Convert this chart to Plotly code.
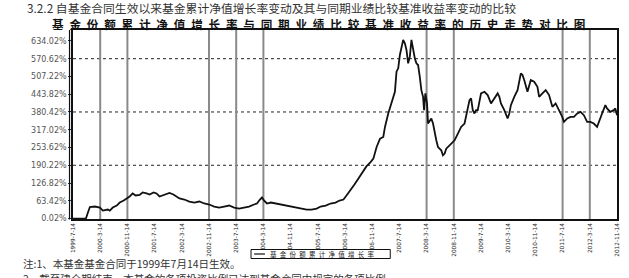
import plotly.graph_objects as go

# time axis: months since fund inception (1999-07-14)
months = [0.0, 2.05, 3.80, 4.39, 4.97, 6.44, 7.90, 8.78, 10.24, 10.82, 11.70, 12.87, 13.75, 14.92,
          15.80, 16.67, 17.55, 18.43, 19.60, 20.48, 21.65, 22.52, 23.69, 24.57, 25.45, 26.33,
          27.50, 28.37, 29.54, 30.42, 31.30, 32.76, 34.22, 35.69, 37.15, 38.61, 40.07, 41.54,
          43.00, 44.46, 45.92, 47.39, 48.85, 50.31, 51.77, 53.24, 54.11, 54.99, 55.58, 56.16,
          57.04, 58.21, 59.67, 61.13, 62.60, 64.35, 65.81, 67.28, 68.74, 70.20, 71.66, 72.83,
          74.30, 75.76, 77.22, 78.39, 79.56, 80.44, 81.61, 82.78, 83.95, 85.12, 86.29, 87.46,
          88.34, 89.30, 90.30, 91.26, 91.76, 92.72, 93.69, 94.19, 94.68, 95.15, 95.65, 96.14,
          96.61, 97.11, 97.61, 98.08, 98.57, 99.07, 99.54, 100.04, 100.53, 101.00, 101.50,
          101.99, 102.46, 102.96, 103.25, 103.63, 104.13, 104.42, 104.92, 105.39, 105.89,
          106.38, 106.85, 107.35, 108.31, 108.81, 109.31, 109.78, 110.27, 111.24, 112.23,
          113.20, 114.16, 115.16, 115.62, 116.12, 116.62, 117.09, 117.58, 118.08, 118.55,
          119.05, 120.01, 121.01, 121.97, 122.94, 123.93, 124.90, 125.40, 125.86, 126.86,
          127.82, 128.32, 128.79, 129.78, 130.75, 131.71, 132.21, 132.71, 133.67, 134.64,
          135.63, 136.60, 137.10, 138.06, 139.03, 140.02, 140.99, 141.95, 142.95, 143.91,
          144.41, 145.37, 146.34, 147.33, 148.30, 149.27, 150.26, 151.22, 152.19, 153.18,
          154.15, 154.65, 155.61, 156.58, 157.07, 158.04, 159.04, 159.51, 160.00]

# cumulative NAV growth rate (%)
growth = [0.0, 0.0, 0.0, 21.5, 41.2, 43.0, 39.4, 28.7, 32.3, 28.7, 39.4, 46.6, 57.3, 64.5,
          71.7, 78.8, 89.6, 82.4, 84.2, 93.2, 89.6, 86.0, 93.2, 89.6, 78.8, 82.4,
          89.6, 91.4, 86.0, 78.8, 71.7, 68.1, 60.9, 57.3, 60.9, 53.8, 50.2, 43.0,
          39.4, 43.0, 46.6, 39.4, 35.8, 39.4, 43.0, 50.2, 53.8, 68.1, 75.2, 64.5,
          53.8, 57.3, 53.8, 50.2, 46.6, 43.0, 39.4, 35.8, 32.3, 32.3, 35.8, 43.0,
          46.6, 53.8, 57.3, 64.5, 68.1, 82.4, 100.3, 121.8, 143.3, 164.8, 186.3, 200.6,
          213.9, 255.4, 285.5, 291.2, 327.1, 375.1, 416.6, 440.6, 452.4, 524.1, 536.2, 583.9,
          613.6, 637.6, 625.8, 601.8, 554.2, 577.8, 637.6, 601.8, 572.1, 554.2, 548.1,
          506.2, 458.5, 434.5, 386.9, 446.7, 410.9, 339.2, 351.1, 357.2, 339.2,
          303.4, 279.4, 255.4, 243.6, 225.7, 231.8, 249.7, 255.4, 267.6, 279.4,
          303.4, 327.1, 339.2, 363.1, 398.7, 422.7, 428.8, 386.9, 375.1, 386.9,
          386.9, 446.7, 452.4, 440.6, 410.9, 428.8, 446.7, 434.5, 410.9, 386.9,
          357.2, 375.1, 404.8, 434.5, 458.5, 518.3, 512.3, 494.3, 452.4, 494.3,
          488.3, 470.3, 434.5, 446.7, 458.5, 440.6, 398.7, 410.9, 386.9, 362.9,
          345.0, 357.2, 362.9, 362.9, 375.1, 380.8, 369.0, 345.0, 345.0, 339.2,
          327.1, 345.0, 375.1, 404.8, 393.0, 380.8, 386.9, 393.0, 369.0]

x_tick_months = [0, 8, 16, 24, 32, 40, 48, 56, 64, 72, 80, 88, 96, 104, 112, 120, 128, 136, 144, 152, 160]
x_tick_labels = ["1999-7-14", "2000-3-14", "2000-11-14", "2001-7-14", "2002-3-14", "2002-11-14",
                 "2003-7-14", "2004-3-14", "2004-11-14", "2005-7-14", "2006-3-14", "2006-11-14",
                 "2007-7-14", "2008-3-14", "2008-11-14", "2009-7-14", "2010-3-14", "2010-11-14",
                 "2011-7-14", "2012-3-14", "2012-11-14"]
y_tick_values = [0.02, 63.42, 126.82, 190.22, 253.62, 317.02, 380.42, 443.82, 507.22, 570.62, 634.02]
y_tick_labels = ["0.02%", "63.42%", "126.82%", "190.22%", "253.62%", "317.02%", "380.42%",
                 "443.82%", "507.22%", "570.62%", "634.02%"]
grid_values = [190.22, 380.42, 570.62]
vline_months = [8, 16, 40, 48, 56, 104, 112, 144, 152]

header = "3.2.2 自基金合同生效以来基金累计净值增长率变动及其与同期业绩比较基准收益率变动的比较"
chart_title = "基金份额累计净值增长率与同期业绩比较基准收益率的历史走势对比图"
legend_text = "基金份额累计净值增长率"
note1 = "注:1、本基金基金合同于1999年7月14日生效。"
note2 = "2、截至建仓期结束，本基金的各项投资比例已达到基金合同中规定的各项比例。"

W, H = 629, 278
L, R, T, B = 73, 9, 30, 59
PW, PH = W - L - R, H - T - B


def px_x(x):
    return (x - L) / PW


def px_y(y):
    return 1 - (y - T) / PH


CJK = "Noto Sans CJK SC, sans-serif"

fig = go.Figure()
fig.add_trace(go.Scatter(x=months, y=growth, mode="lines", name=legend_text,
                         line=dict(color="#111111", width=1.8), showlegend=False))

shapes = []
for g in grid_values:
    shapes.append(dict(type="line", xref="paper", yref="y", x0=0, x1=1, y0=g, y1=g,
                       line=dict(color="#222222", width=1, dash="dot"), layer="below"))
for m in vline_months:
    shapes.append(dict(type="line", xref="x", yref="paper", x0=m, x1=m, y0=0, y1=1,
                       line=dict(color="#8a8a8a", width=2), layer="below"))
# outer left double line
shapes.append(dict(type="line", xref="paper", yref="paper", x0=px_x(69.5), x1=px_x(69.5),
                   y0=px_y(219.5), y1=1, line=dict(color="#111111", width=1.2)))
# legend box
shapes.append(dict(type="rect", xref="paper", yref="paper", x0=px_x(252), x1=px_x(392),
                   y0=px_y(258.5), y1=px_y(249.5), line=dict(color="#111111", width=1),
                   fillcolor="white"))
shapes.append(dict(type="line", xref="paper", yref="paper", x0=px_x(255), x1=px_x(266),
                   y0=px_y(254), y1=px_y(254), line=dict(color="#111111", width=1.2)))

annotations = [
    dict(text=header, xref="paper", yref="paper", x=px_x(25), y=px_y(7.7), xanchor="left",
         yanchor="middle", showarrow=False, font=dict(family=CJK, size=11.8, color="#333333")),
    dict(text="<b>" + "\u2002".join(chart_title) + "</b>", xref="paper", yref="paper",
         x=px_x(320), y=px_y(24), xanchor="center", yanchor="middle", showarrow=False,
         font=dict(family=CJK, size=11.6, color="#111111")),
    dict(text="\u2002".join(legend_text), xref="paper", yref="paper", x=px_x(269), y=px_y(254),
         xanchor="left", yanchor="middle", showarrow=False,
         font=dict(family=CJK, size=6.5, color="#222222")),
    dict(text=note1, xref="paper", yref="paper", x=px_x(21), y=px_y(263), xanchor="left",
         yanchor="middle", showarrow=False, font=dict(family=CJK, size=10.5, color="#333333")),
    dict(text=note2, xref="paper", yref="paper", x=px_x(21), y=px_y(278), xanchor="left",
         yanchor="middle", showarrow=False, font=dict(family=CJK, size=10.5, color="#333333")),
]

fig.update_layout(
    width=W, height=H,
    margin=dict(l=L, r=R, t=T, b=B, pad=0),
    paper_bgcolor="white", plot_bgcolor="white",
    shapes=shapes, annotations=annotations,
    showlegend=False,
    xaxis=dict(range=[0, 160], tickmode="array", tickvals=x_tick_months, ticktext=x_tick_labels,
               tickangle=-90, tickfont=dict(family="DejaVu Sans", size=5.8, color="#222222"),
               showgrid=False, zeroline=False, showline=True, mirror=True,
               linecolor="#111111", linewidth=1.5, ticks="", fixedrange=True),
    yaxis=dict(range=[-1.5, 673], tickmode="array", tickvals=y_tick_values, ticktext=y_tick_labels,
               tickfont=dict(family="DejaVu Sans", size=8, color="#555555"),
               showgrid=False, zeroline=False, showline=True, mirror=True,
               linecolor="#111111", linewidth=1.5, ticks="outside", ticklen=3,
               tickcolor="#333333", fixedrange=True),
)

fig.write_html("out.html", config={"displayModeBar": False},
               post_script="document.body.style.margin='0';document.body.style.overflow='hidden';")
